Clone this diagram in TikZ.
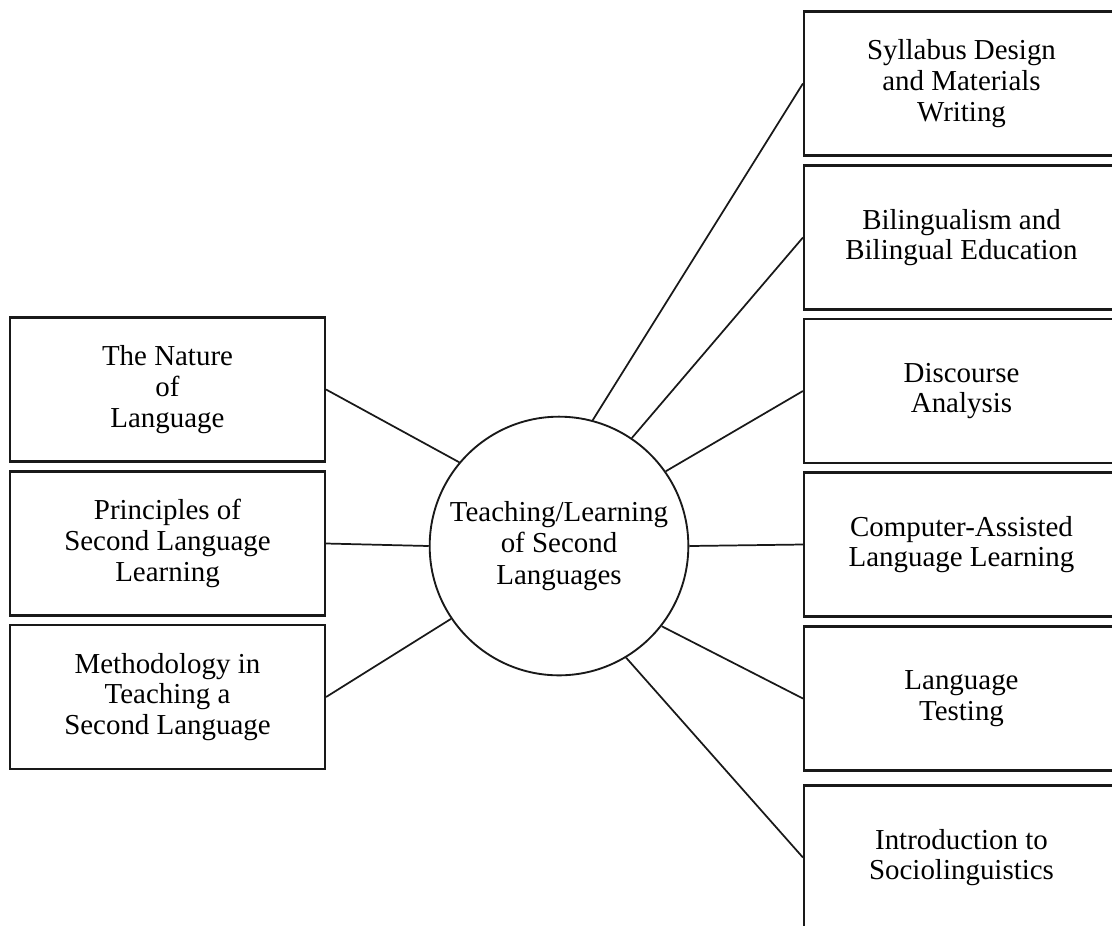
\documentclass[tikz,border=0pt]{standalone}
\usepackage{fontspec}
\setmainfont{Liberation Serif}
\begin{document}
\begin{tikzpicture}[x=0.75pt,y=-0.75pt,
  box/.style={draw=black!90, line width=1.6pt, rectangle, inner sep=0pt,
    minimum width=236.25pt, minimum height=108pt, align=center,
    font=\fontsize{21.7}{23}\selectfont},
  hub/.style={draw=black!90, line width=1.4pt, circle, inner sep=0pt,
    minimum size=194pt, align=center, font=\fontsize{21.7}{23.5}\selectfont},
  link/.style={draw=black!90, line width=1.3pt}]
\clip (0,0) rectangle (1112,925);
\fill[white] (0,0) rectangle (1112,925);
\node[hub] (c) at (559,546) {Teaching/Learning\\of Second\\Languages};
\node[box] (l1) at (167.5,389.5) {The Nature\\of\\Language};
\node[box] (l2) at (167.5,543.5) {Principles of\\Second Language\\Learning};
\node[box] (l3) at (167.5,697) {Methodology in\\Teaching a\\Second Language};
\node[box] (r1) at (961.5,83.5) {Syllabus Design\\and Materials\\Writing};
\node[box] (r2) at (961.5,237.5) {Bilingualism and\\Bilingual Education};
\node[box] (r3) at (961.5,391) {Discourse\\Analysis};
\node[box] (r4) at (961.5,544.5) {Computer-Assisted\\Language Learning};
\node[box] (r5) at (961.5,698.5) {Language\\Testing};
\node[box] (r6) at (961.5,857.5) {Introduction to\\Sociolinguistics};
\draw[link] (l1.east) -- (c.140);
\draw[link] (l2.east) -- (c.180);
\draw[link] (l3.east) -- (c.214);
\draw[link] (r1.west) -- (c.75);
\draw[link] (r2.west) -- (c.56);
\draw[link] (r3.west) -- (c.35);
\draw[link] (r4.west) -- (c.0);
\draw[link] (r5.west) -- (c.-38);
\draw[link] (r6.west) -- (c.-59);
\end{tikzpicture}
\end{document}
